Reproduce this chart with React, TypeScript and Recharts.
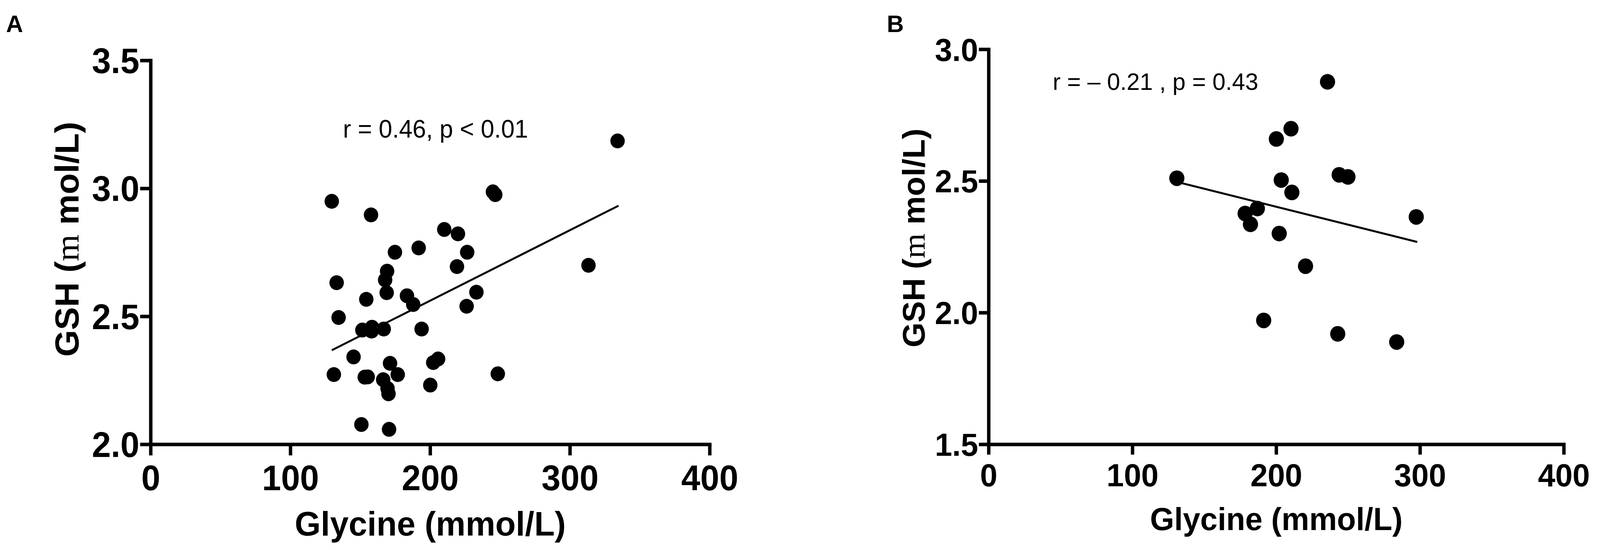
import React from "react";
import { ScatterChart, Scatter, XAxis, YAxis, ReferenceLine } from "recharts";

// Panel A: glycine vs GSH, n = 42
const glycineA = [
  129.5, 157.6, 334, 244.8, 246.5, 210, 219.8, 191.7, 174.7, 226.4, 219.1,
  313.2, 169.1, 167.7, 133, 168.8, 183.3, 233, 154.2, 187.8, 226, 134.4, 158.3,
  151.4, 166.7, 158, 193.8, 145.1, 205.6, 202.1, 171.2, 131, 153.1, 176.7,
  166.3, 248.3, 200, 170.1, 150.7, 170.5, 169.4, 155.2,
];
const gshA = [
  2.95, 2.897, 3.186, 2.987, 2.976, 2.84, 2.823, 2.768, 2.751, 2.751, 2.695,
  2.7, 2.677, 2.643, 2.632, 2.593, 2.581, 2.595, 2.567, 2.547, 2.54, 2.496,
  2.458, 2.447, 2.451, 2.443, 2.451, 2.342, 2.334, 2.32, 2.317, 2.273, 2.263,
  2.273, 2.253, 2.276, 2.232, 2.198, 2.078, 2.059, 2.219, 2.264,
];
const fitA = [
  { x: 129.5, y: 2.368 },
  { x: 334.7, y: 2.933 },
];

// Panel B: n = 17
const glycineB = [
  130.8, 235.6, 210.2, 200, 203.4, 243.7, 249.8, 210.8, 186.8, 178.3, 182, 202,
  297.3, 220.3, 191.2, 242.7, 283.7,
];
const gshB = [
  2.511, 2.877, 2.699, 2.66, 2.504, 2.524, 2.516, 2.457, 2.396, 2.377, 2.336,
  2.301, 2.364, 2.177, 1.971, 1.92, 1.889,
];
const fitB = [
  { x: 130.8, y: 2.497 },
  { x: 298, y: 2.269 },
];

const xTicks = [0, 100, 200, 300, 400];
const yTicksA = [2.0, 2.5, 3.0, 3.5];
const yTicksB = [1.5, 2.0, 2.5, 3.0];

const pointsA = glycineA.map((x, i) => ({ x, y: gshA[i] }));
const pointsB = glycineB.map((x, i) => ({ x, y: gshB[i] }));

const SANS = "'Liberation Sans', Arial, sans-serif";
const PAGE_W = 4213;

// the window may come out narrower than asked; squeeze the figure to fit it
if (typeof document !== "undefined") {
  document.documentElement.style.overflow = "hidden";
  document.body.style.overflow = "hidden";
}
const viewW =
  typeof window !== "undefined"
    ? Math.min(
        window.innerWidth || PAGE_W,
        document.documentElement.clientWidth || PAGE_W
      )
    : PAGE_W;
const squeeze = Math.min(1, viewW / PAGE_W);

type PanelProps = {
  left: number;
  width: number;
  top: number;
  right: number;
  yWidth: number;
  yDomain: [number, number];
  yTicks: number[];
  points: { x: number; y: number }[];
  fit: { x: number; y: number }[];
  font: number;
  titleFont: number;
  tick: number;
  xTickGap: number;
  dot: number;
  yTitleX: number;
  yTitleShift: number;
  xTitleDown: number;
};

const Panel = (p: PanelProps) => {
  const yTitle = (props: any) => {
    const vb = props.viewBox;
    const cx = p.yTitleX;
    const cy = vb.y + vb.height / 2 + p.yTitleShift;
    return (
      <text
        x={cx}
        y={cy}
        transform={`rotate(-90 ${cx} ${cy})`}
        textAnchor="middle"
        fontFamily={SANS}
        fontWeight={700}
        fontSize={p.titleFont}
        fill="#000"
      >
        {"GSH ("}
        <tspan fontFamily="'Liberation Serif', serif" fontWeight={400}>
          m
        </tspan>
        {" mol/L)"}
      </text>
    );
  };

  const xTitle = (props: any) => {
    const vb = props.viewBox;
    return (
      <text
        x={vb.x + vb.width / 2}
        y={vb.y + p.xTitleDown}
        textAnchor="middle"
        fontFamily={SANS}
        fontWeight={700}
        fontSize={p.titleFont}
        fill="#000"
      >
        Glycine (mmol/L)
      </text>
    );
  };

  const tickStyle = { fill: "#000", fontSize: p.font, fontWeight: 700, fontFamily: SANS };
  const lineStyle = { stroke: "#000", strokeWidth: 9 };

  return (
    <div style={{ position: "absolute", left: p.left, top: 0 }}>
      <ScatterChart
        width={p.width}
        height={1407}
        margin={{ top: p.top, right: p.right, bottom: 0, left: 0 }}
      >
        <XAxis
          type="number"
          dataKey="x"
          domain={[0, 400]}
          ticks={xTicks}
          interval={0}
          height={270}
          tick={tickStyle}
          tickSize={p.tick}
          tickMargin={p.xTickGap}
          tickLine={lineStyle}
          axisLine={{ ...lineStyle, strokeLinecap: "square" }}
          label={xTitle}
        />
        <YAxis
          type="number"
          dataKey="y"
          domain={p.yDomain}
          ticks={p.yTicks}
          interval={0}
          width={p.yWidth}
          tick={tickStyle}
          tickSize={p.tick}
          tickMargin={2}
          tickFormatter={(v: number) => v.toFixed(1)}
          tickLine={lineStyle}
          axisLine={{ ...lineStyle, strokeLinecap: "square" }}
          label={yTitle}
        />
        <ReferenceLine
          segment={p.fit}
          stroke="#000"
          strokeWidth={5}
          ifOverflow="visible"
        />
        <Scatter
          data={p.points}
          isAnimationActive={false}
          shape={(s: any) => <circle cx={s.cx} cy={s.cy} r={p.dot} fill="#000" />}
        />
      </ScatterChart>
    </div>
  );
};

const note: React.CSSProperties = {
  position: "absolute",
  fontFamily: SANS,
  color: "#000",
  whiteSpace: "pre",
};

export default function App() {
  return (
    <div
      style={{
        position: "absolute",
        left: 0,
        top: 0,
        width: PAGE_W,
        height: 1407,
        background: "#fff",
        transform: `scaleX(${squeeze})`,
        transformOrigin: "0 0",
      }}
    >
      <Panel
        left={0}
        width={2000}
        top={155}
        right={131}
        yWidth={397}
        yDomain={[2, 3.5]}
        yTicks={yTicksA}
        points={pointsA}
        fit={fitA}
        font={90}
        titleFont={88}
        tick={28}
        xTickGap={25}
        dot={19}
        yTitleX={207}
        yTitleShift={-34}
        xTitleDown={233}
      />
      <Panel
        left={2200}
        width={2013}
        top={126.5}
        right={95}
        yWidth={403.5}
        yDomain={[1.5, 3]}
        yTicks={yTicksB}
        points={pointsB}
        fit={fitB}
        font={82}
        titleFont={82}
        tick={26}
        xTickGap={23}
        dot={20}
        yTitleX={235}
        yTitleShift={-23}
        xTitleDown={219}
      />
      <div style={{ ...note, left: 16, top: 30, fontSize: 62, lineHeight: "62px", fontWeight: 700 }}>
        A
      </div>
      <div style={{ ...note, left: 2335, top: 30, fontSize: 62, lineHeight: "62px", fontWeight: 700 }}>
        B
      </div>
      <div style={{ ...note, left: 903, top: 298, fontSize: 64, lineHeight: "64px" }}>
        r = 0.46, p &lt; 0.01
      </div>
      <div style={{ ...note, left: 2772, top: 178, fontSize: 62, lineHeight: "62px" }}>
        {"r = \u2013 0.21 , p = 0.43"}
      </div>
    </div>
  );
}
